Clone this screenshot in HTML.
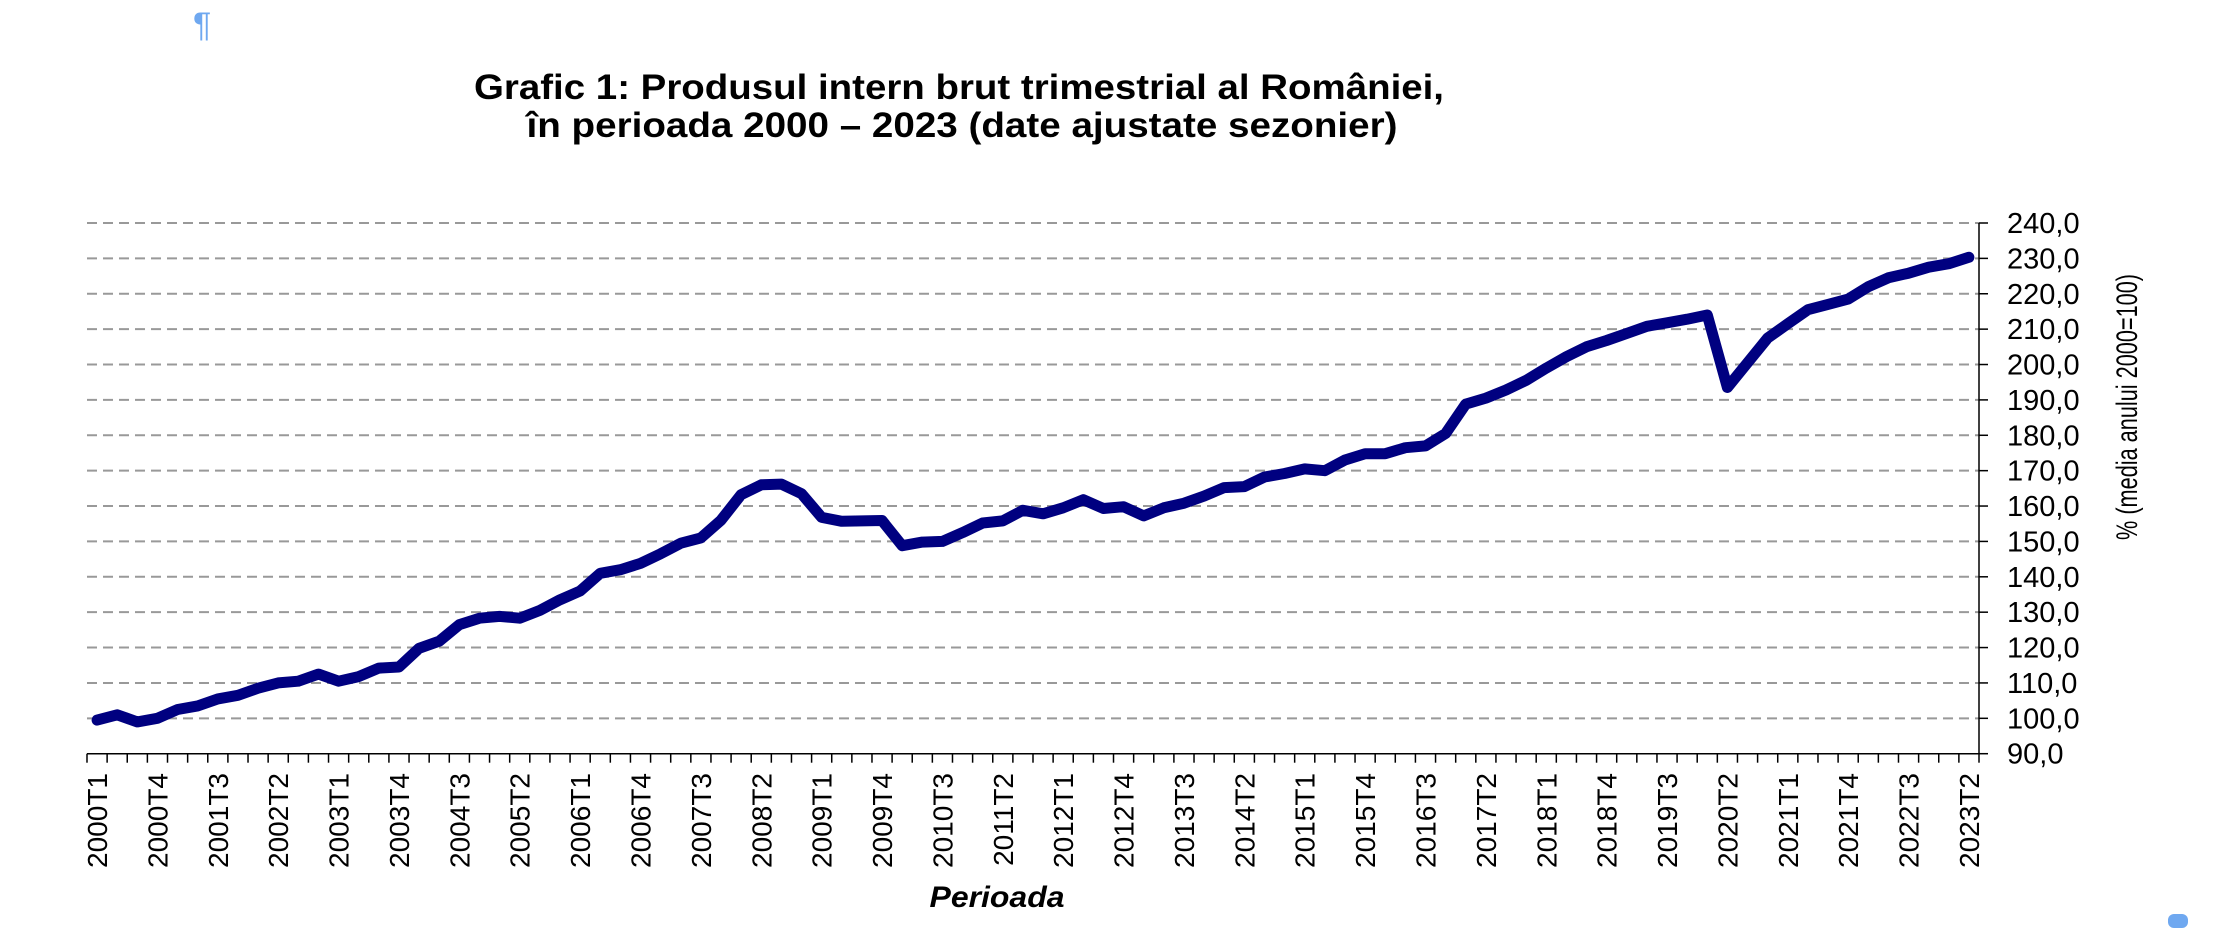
<!DOCTYPE html>
<html><head><meta charset="utf-8"><style>
html,body{margin:0;padding:0;background:#fff;}
svg{display:block;font-family:"Liberation Sans",Arial,sans-serif;}
</style></head><body>
<svg id="chart" width="2220" height="928" viewBox="0 0 2220 928" xmlns="http://www.w3.org/2000/svg">
<text x="193" y="36" font-size="34" fill="#6fa8f0">¶</text>
<text x="959" y="99" text-anchor="middle" font-size="35" font-weight="bold" textLength="970" lengthAdjust="spacingAndGlyphs">Grafic 1: Produsul intern brut trimestrial al României,</text>
<text x="962" y="137" text-anchor="middle" font-size="35" font-weight="bold" textLength="871" lengthAdjust="spacingAndGlyphs">în perioada 2000 – 2023 (date ajustate sezonier)</text>
<g id="grid"></g>
<g id="axes"></g>
<g id="series"></g>
<text x="997" y="907" text-anchor="middle" font-size="30" font-weight="bold" font-style="italic" textLength="135" lengthAdjust="spacingAndGlyphs">Perioada</text>
<text transform="translate(2137,407) rotate(-90)" text-anchor="middle" font-size="30" textLength="266" lengthAdjust="spacingAndGlyphs">% (media anului 2000=100)</text>
<rect x="2168" y="914" width="20" height="14" rx="6" fill="#6fa8f0"/>
</svg>
<script>
const years = [2000,2001,2002,2003,2004,2005,2006,2007,2008,2009,2010,2011,2012,2013,2014,2015,2016,2017,2018,2019,2020,2021,2022,2023];
const values = [
99.5,101,99,100,
102.5,103.5,105.5,106.5,
108.5,110,110.5,112.5,
110.5,111.8,114.2,114.5,
119.8,121.8,126.5,128.3,
128.8,128.3,130.5,133.5,
136,141,142,143.8,
146.5,149.5,151,156,
163.2,166,166.2,163.5,
156.8,155.7,155.8,155.9,
148.8,149.8,150,152.5,
155.2,155.8,158.8,157.8,
159.5,161.8,159.3,159.8,
157.2,159.5,160.8,162.8,
165.2,165.5,168.2,169.2,
170.5,170,173,174.8,
174.8,176.5,177,180.5,
188.8,190.5,192.8,195.5,
199,202.2,205,206.8,
208.8,210.8,211.8,212.8,
214,193.5,200.5,207.5,
211.5,215.5,217,218.5,
222,224.5,225.8,227.5,
228.5,230.3];
const yTicks = [90,100,110,120,130,140,150,160,170,180,190,200,210,220,230,240];
const categories = [];
for (const yr of years) for (let q=1;q<=4;q++) categories.push(yr+"T"+q);
categories.length = values.length;

const NS="http://www.w3.org/2000/svg";
const L=87, R=1979, T=223, B=753.7, yMin=90, yMax=240;
const step=(R-L)/categories.length;
const xPos=i=>L+step*(i+0.5);
const yPos=v=>B-(v-yMin)/(yMax-yMin)*(B-T);
function mk(tag,attrs,parent){const e=document.createElementNS(NS,tag);for(const k in attrs)e.setAttribute(k,attrs[k]);parent.appendChild(e);return e;}
const grid=document.getElementById('grid'), axes=document.getElementById('axes'), series=document.getElementById('series');

yTicks.forEach(v=>{
  const y=yPos(v);
  if(v>yMin){
    const g=mk('line',{x1:L,x2:R,y1:y,y2:y,stroke:'#999','stroke-width':2,'stroke-dasharray':'10,6'},grid);
    
    
  }
  const t=mk('line',{x1:R,x2:R+9,y1:y,y2:y,stroke:'#000','stroke-width':1.5},axes);
  
  
  const lb=mk('text',{x:2007,y:y+10,'font-size':29},axes);
  lb.textContent=v.toFixed(1).replace('.',',');
  
  
});
const xa=mk('line',{x1:L,x2:R,y1:B,y2:B,stroke:'#000','stroke-width':1.5},axes);


const ya=mk('line',{x1:R,x2:R,y1:T,y2:B,stroke:'#000','stroke-width':1.5},axes);


for(let i=0;i<=categories.length;i++){
  const x=L+step*i;
  const t=mk('line',{x1:x,x2:x,y1:B,y2:B+9,stroke:'#000','stroke-width':1.5},axes);
  
  
}
categories.forEach((c,i)=>{
  if(i%3!==0)return;
  const x=xPos(i);
  const lb=mk('text',{transform:`translate(${x+10},773) rotate(-90)`,'text-anchor':'end','font-size':28},axes);
  lb.textContent=c;
  
  
});
const pts=values.map((v,i)=>xPos(i).toFixed(1)+','+yPos(v).toFixed(1)).join(' ');
const pl=mk('polyline',{points:pts,fill:'none',stroke:'#000080','stroke-width':11,'stroke-linejoin':'round','stroke-linecap':'round'},series);


</script>
</body></html>
